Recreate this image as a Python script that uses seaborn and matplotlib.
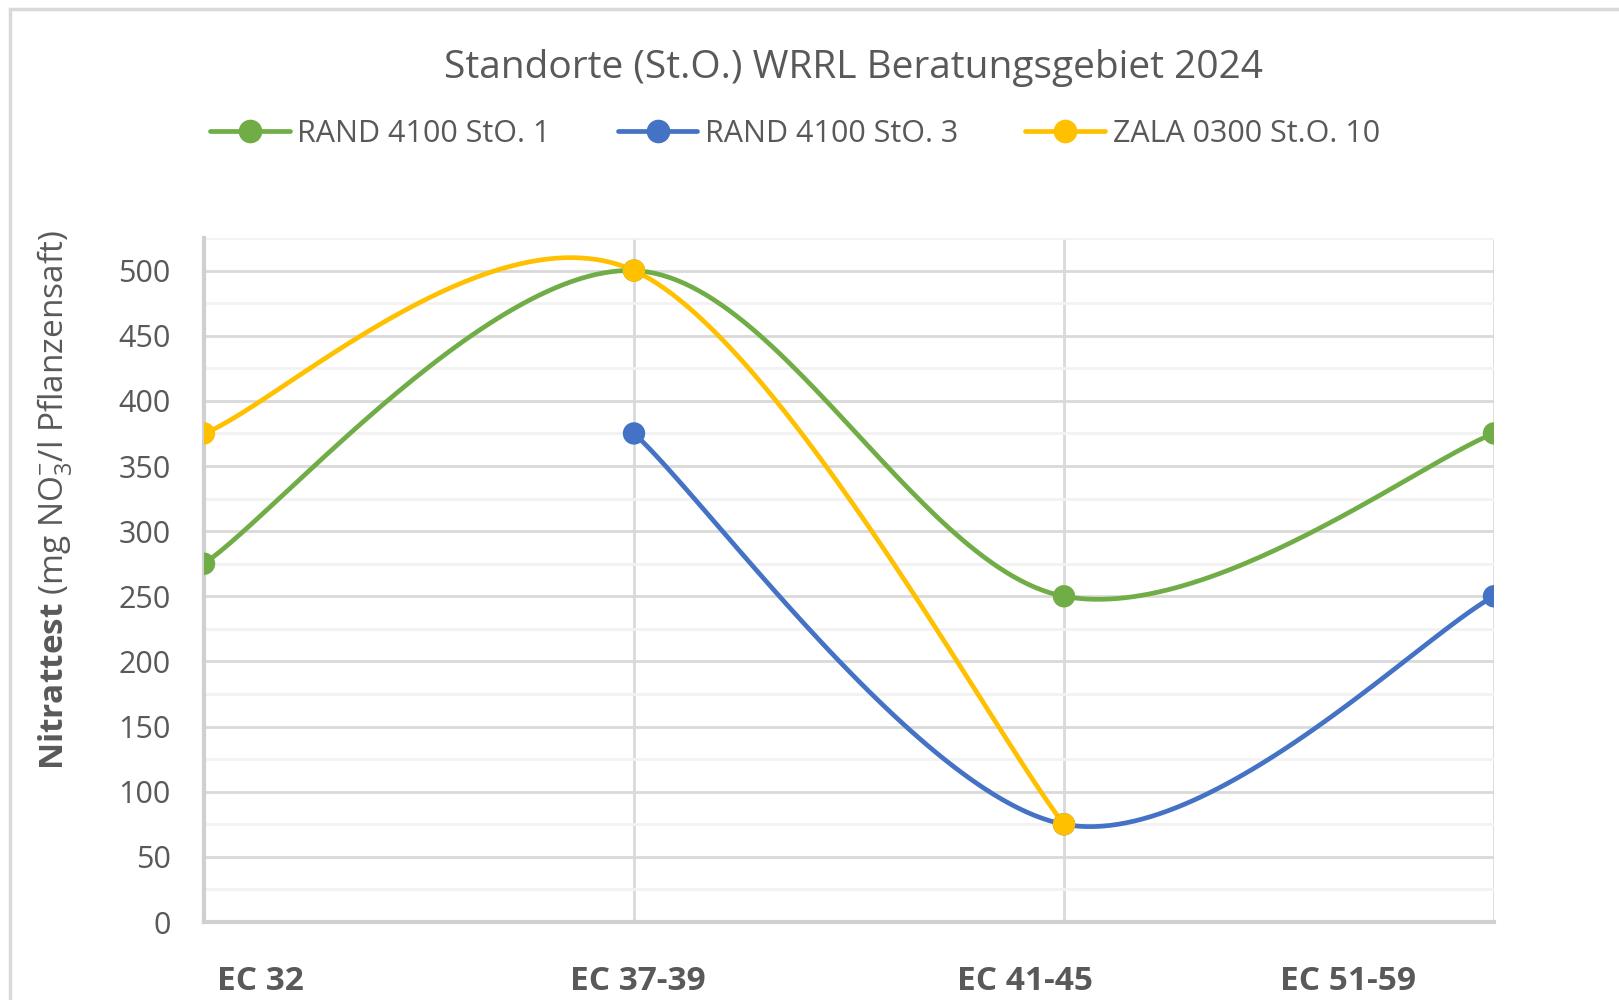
import numpy as np
import pandas as pd
import matplotlib
matplotlib.use('Agg')
import matplotlib.pyplot as plt
import seaborn as sns
from matplotlib.lines import Line2D
from matplotlib.patches import Rectangle

# values
stages = ['EC 32', 'EC 37-39', 'EC 41-45', 'EC 51-59']
rand_1 = [275, 500, 250, 375]
rand_3 = [np.nan, 375, 75, 250]
zala_10 = [375, 500, 75, np.nan]
series_names = ['RAND 4100 StO. 1', 'RAND 4100 StO. 3', 'ZALA 0300 St.O. 10']
colors = ['#70AD47', '#4472C4', '#FFC000']
y_ticks = [0, 50, 100, 150, 200, 250, 300, 350, 400, 450, 500]

# where the category labels sit under the axis (offset like in the original)
label_pos = [0.13, 1.01, 1.91, 2.66]

sns.set_style('white')
plt.rcParams['font.family'] = ['Open Sans', 'DejaVu Sans']
plt.rcParams['mathtext.fontset'] = 'custom'
plt.rcParams['mathtext.rm'] = 'Open Sans'
plt.rcParams['mathtext.bf'] = 'Open Sans:bold'
txt = '#595959'


def smooth(xs, ys, n=60):
    # excel like bezier smoothing between the given points
    pts = [(x, y) for x, y in zip(xs, ys) if not np.isnan(y)]
    pts = np.array(pts, dtype=float)
    out = []
    t = np.linspace(0, 1, n)[:, None]
    for i in range(len(pts) - 1):
        p0 = pts[i - 1] if i > 0 else pts[i]
        p1 = pts[i]
        p2 = pts[i + 1]
        p3 = pts[i + 2] if i + 2 < len(pts) else pts[i + 1]
        c1 = p1 + (p2 - p0) / 6
        c2 = p2 - (p3 - p1) / 6
        seg = (1 - t) ** 3 * p1 + 3 * (1 - t) ** 2 * t * c1 + 3 * (1 - t) * t ** 2 * c2 + t ** 3 * p2
        out.append(seg)
    return pd.DataFrame(np.vstack(out), columns=['x', 'y'])


fig = plt.figure(figsize=(16.19, 10), dpi=100)
fig.patches.append(Rectangle((10 / 1619, -0.01), 1.02, 1 - 9 / 1000 + 0.01, transform=fig.transFigure,
                             fill=False, edgecolor='#D9D9D9', lw=2.5))
ax = fig.add_axes([204 / 1619, 0.078, 1290 / 1619, 0.684])

xs = np.arange(len(stages))
for vals, name, col in zip([rand_1, rand_3, zala_10], series_names, colors):
    curve = smooth(xs, vals)
    sns.lineplot(data=curve, x='x', y='y', sort=False, color=col, lw=3.4, ax=ax, zorder=3)
    pts = pd.DataFrame({'x': xs, 'y': vals}).dropna()
    sns.scatterplot(data=pts, x='x', y='y', color=col, s=260, edgecolor='none', ax=ax, zorder=4)

ax.set_xlim(0, 3)
ax.set_ylim(0, 525)
ax.set_yticks(y_ticks)
ax.set_yticks(np.arange(25, 526, 50), minor=True)
ax.set_xticks(xs, minor=True)
ax.set_xticks(label_pos)
ax.set_xticklabels(stages, fontsize=24, fontweight='bold', color=txt)
ax.tick_params(axis='x', which='both', length=0, pad=31)
ax.tick_params(axis='y', which='both', length=0, pad=24, labelsize=22, labelcolor=txt)
ax.grid(axis='y', which='major', color='#D9D9D9', lw=2)
ax.grid(axis='y', which='minor', color='#F2F2F2', lw=2)
ax.grid(axis='x', which='minor', color='#D9D9D9', lw=2)
ax.grid(axis='x', which='major', visible=False)
for s in ['top', 'right']:
    ax.spines[s].set_visible(False)
for s in ['left', 'bottom']:
    ax.spines[s].set_color('#D0D0D0')
    ax.spines[s].set_linewidth(3)
ax.set_xlabel('')
ax.set_ylabel(r'$\mathbf{Nitrattest}$ (mg NO$_3^{-}$/l Pflanzensaft)', fontsize=24, color=txt)
ax.yaxis.set_label_coords(-0.100, 0.617)

fig.text(0.527, 0.932, 'Standorte (St.O.) WRRL Beratungsgebiet 2024', ha='center', va='center',
         fontsize=28, color=txt)

handles = [Line2D([], [], color=c, lw=3.4, marker='o', markersize=16) for c in colors]
fig.legend(handles, series_names, loc='center', bbox_to_anchor=(0.491, 0.866), ncol=3,
           frameon=False, fontsize=22, labelcolor=txt, handlelength=2.6, handletextpad=0.25,
           columnspacing=2.2)

fig.savefig('out.png', dpi=100)
